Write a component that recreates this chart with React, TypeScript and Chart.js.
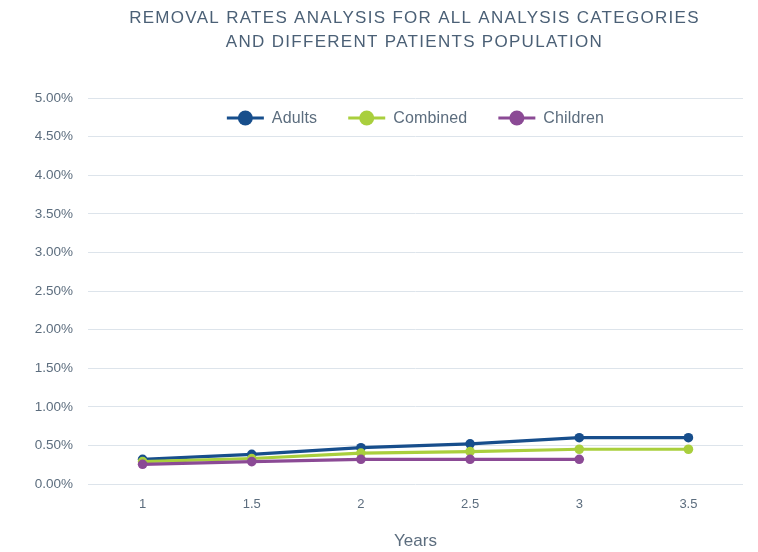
import React, { useEffect, useRef } from "react";
import { Chart, registerables } from "chart.js";

Chart.register(...registerables);

const titleLines = [
  "REMOVAL RATES ANALYSIS FOR ALL ANALYSIS CATEGORIES",
  "AND DIFFERENT PATIENTS POPULATION",
];
const years = ["1", "1.5", "2", "2.5", "3", "3.5"];
const adults = [0.32, 0.385, 0.47, 0.52, 0.6, 0.6];
const combined = [0.29, 0.33, 0.4, 0.42, 0.45, 0.45];
const children = [0.255, 0.29, 0.32, 0.32, 0.32, null];
const seriesNames = ["Adults", "Combined", "Children"];
const seriesColors = ["#174e8c", "#a9cf3d", "#8b4a95"];
const xTitle = "Years";

const FONT = "'Liberation Sans', Arial, sans-serif";
const TEXT = "#5c6d7e";

const titleLegendPlugin = {
  id: "titleLegend",
  afterDraw(chart: any) {
    const { ctx, chartArea } = chart;
    const cx = (chartArea.left + chartArea.right) / 2;
    ctx.save();
    ctx.fillStyle = "#4b6076";
    ctx.font = `17px ${FONT}`;
    (ctx as any).letterSpacing = "1.3px";
    ctx.textAlign = "center";
    ctx.textBaseline = "middle";
    titleLines.forEach((t, i) => ctx.fillText(t, cx - 1, 18 + i * 24));

    // legend
    (ctx as any).letterSpacing = "0.15px";
    ctx.font = `16px ${FONT}`;
    const markerW = 37;
    const gap = 8;
    const spacing = 31;
    const widths = seriesNames.map((n) => markerW + gap + ctx.measureText(n).width);
    const total = widths.reduce((a, b) => a + b, 0) + spacing * (widths.length - 1);
    let x = cx - total / 2;
    const y = chartArea.top + 20;
    seriesNames.forEach((n, i) => {
      const c = seriesColors[i];
      ctx.strokeStyle = c;
      ctx.lineWidth = 3;
      ctx.beginPath();
      ctx.moveTo(x, y);
      ctx.lineTo(x + markerW, y);
      ctx.stroke();
      ctx.fillStyle = c;
      ctx.beginPath();
      ctx.arc(x + markerW / 2, y, 7.5, 0, Math.PI * 2);
      ctx.fill();
      ctx.fillStyle = TEXT;
      ctx.textAlign = "left";
      ctx.fillText(n, x + markerW + gap, y + 1);
      x += widths[i] + spacing;
    });
    ctx.restore();
  },
};

export default function App() {
  const ref = useRef<HTMLCanvasElement>(null);
  useEffect(() => {
    if (!ref.current) return;
    const mk = (label: string, data: any[], color: string, order: number) => ({
      label,
      data,
      borderColor: color,
      backgroundColor: color,
      pointBackgroundColor: color,
      pointBorderColor: color,
      borderWidth: 3.2,
      pointRadius: 4.8,
      pointBorderWidth: 0,
      tension: 0,
      order,
      spanGaps: false,
    });
    const chart = new Chart(ref.current, {
      type: "line",
      data: {
        labels: years,
        datasets: [
          mk(seriesNames[0], adults, seriesColors[0], 2),
          mk(seriesNames[1], combined, seriesColors[1], 1),
          mk(seriesNames[2], children, seriesColors[2], 0),
        ],
      },
      options: {
        animation: false,
        responsive: false,
        maintainAspectRatio: false,
        layout: { padding: { top: 98, right: 15, left: 0, bottom: 0 } },
        plugins: {
          legend: { display: false },
          title: { display: false },
          tooltip: { enabled: false },
        },
        scales: {
          x: {
            type: "category",
            offset: true,
            grid: { display: false, drawTicks: false },
            border: { display: false },
            ticks: {
              color: TEXT,
              font: { family: FONT, size: 13 },
              padding: 13,
            },
            title: {
              display: true,
              text: xTitle,
              color: TEXT,
              font: { family: FONT, size: 17 },
              padding: { top: 13, bottom: 0 },
            },
            afterFit(scale: any) {
              scale.height = 68;
            },
          },
          y: {
            min: 0,
            max: 5,
            grid: { color: "#dde4eb", lineWidth: 1, drawTicks: false },
            border: { display: false },
            ticks: {
              stepSize: 0.5,
              color: TEXT,
              font: { family: FONT, size: 13.5 },
              padding: 15,
              callback: (v: any) => Number(v).toFixed(2) + "%",
            },
            afterFit(scale: any) {
              scale.width = 88;
            },
          },
        },
      },
      plugins: [titleLegendPlugin],
    });
    return () => chart.destroy();
  }, []);
  return (
    <div style={{ position: "fixed", left: 0, top: 0, width: 758, height: 552, background: "#fff" }}>
      <canvas ref={ref} width={758} height={552} style={{ width: 758, height: 552 }} />
    </div>
  );
}
